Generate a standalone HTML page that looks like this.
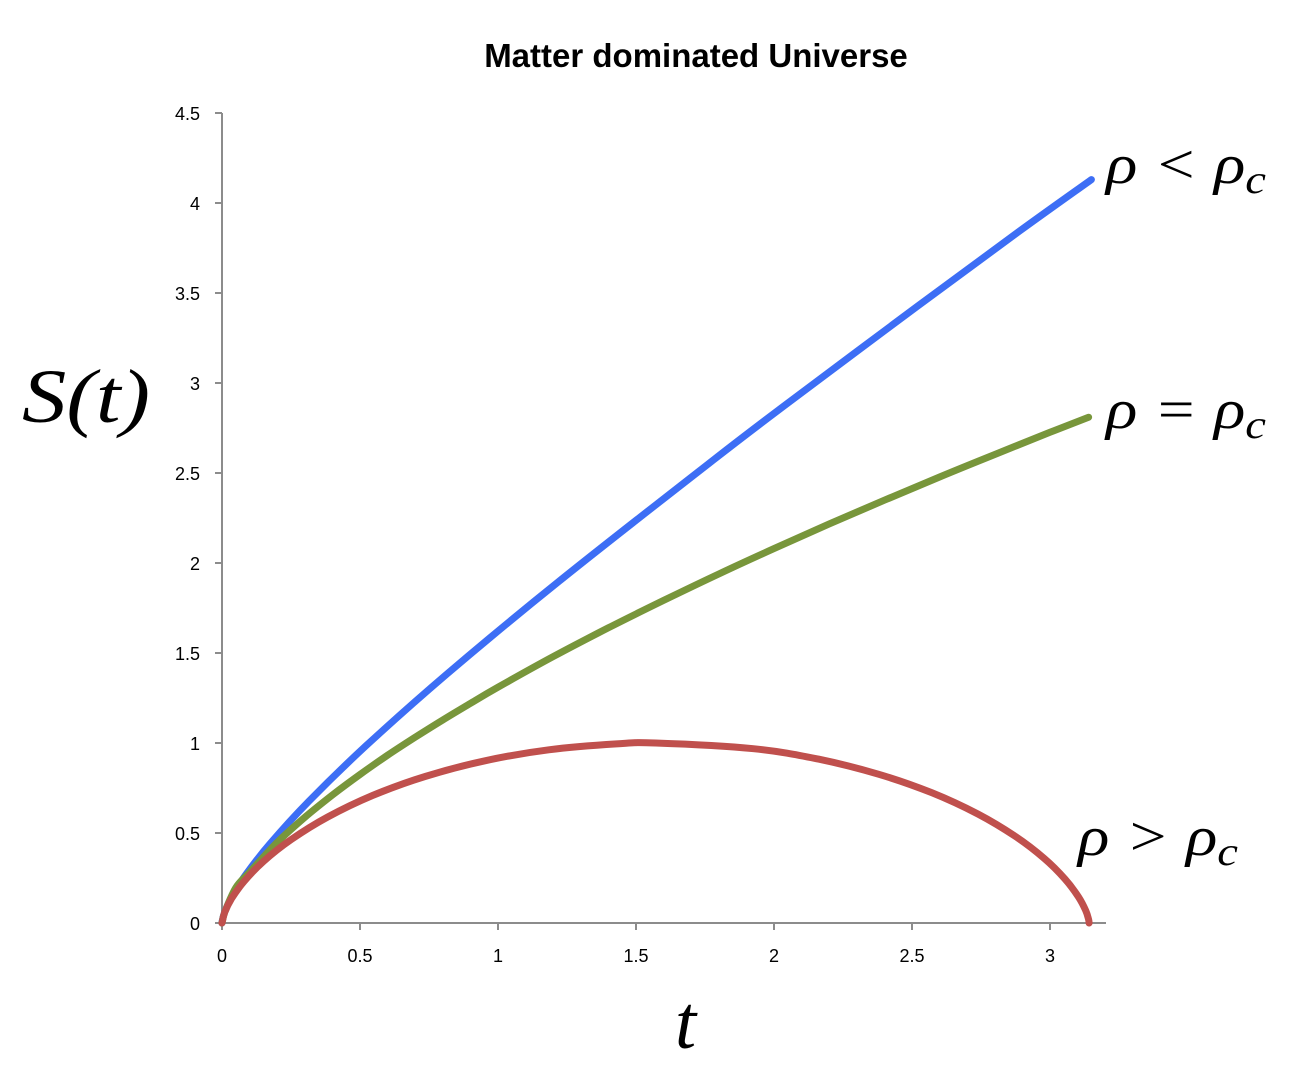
<!DOCTYPE html>
<html><head><meta charset="utf-8"><style>
html,body{margin:0;padding:0;background:#fff;}
svg{display:block;}
.tick{font-family:"Liberation Sans",sans-serif;font-size:18px;fill:#000;}
.math{font-family:"Liberation Serif",serif;font-style:italic;fill:#000;}
</style></head><body>
<svg id="chart" width="1302" height="1088" viewBox="0 0 1302 1088">
<text x="696" y="67" text-anchor="middle" font-family="Liberation Sans, sans-serif" font-weight="bold" font-size="33">Matter dominated Universe</text>
<g id="axes"></g>
<g id="series"></g>
<text class="math" x="22" y="422" font-size="76" textLength="128" lengthAdjust="spacingAndGlyphs">S(t)</text>
<text class="math" x="675" y="1048" font-size="76">t</text>
<text class="math" x="1106" y="183" font-size="56" textLength="160" lengthAdjust="spacingAndGlyphs">ρ &lt; ρ<tspan font-size="40" dy="10">c</tspan></text>
<text class="math" x="1106" y="428" font-size="56" textLength="160" lengthAdjust="spacingAndGlyphs">ρ = ρ<tspan font-size="40" dy="10">c</tspan></text>
<text class="math" x="1078" y="855" font-size="56" textLength="160" lengthAdjust="spacingAndGlyphs">ρ &gt; ρ<tspan font-size="40" dy="10">c</tspan></text>
</svg>
<script>
const xTicks = [0, 0.5, 1, 1.5, 2, 2.5, 3];
const xTickLabels = ["0", "0.5", "1", "1.5", "2", "2.5", "3"];
const yTicks = [0, 0.5, 1, 1.5, 2, 2.5, 3, 3.5, 4, 4.5];
const yTickLabels = ["0", "0.5", "1", "1.5", "2", "2.5", "3", "3.5", "4", "4.5"];
const openT = [0, 0.0013, 0.0105, 0.0362, 0.0876, 0.176, 0.3146, 0.520, 0.8134, 1.2206, 1.775, 2.047, 2.520, 2.887, 3.15];
const openS = [0, 0.0157, 0.0638, 0.147, 0.2715, 0.444, 0.6762, 0.982, 1.381, 1.898, 2.566, 2.885, 3.4265, 3.841, 4.13];
const critT = [0, 0.01, 0.05, 0.1, 0.2, 0.3, 0.4, 0.5, 0.6, 0.7, 0.8, 0.9, 1.0, 1.2, 1.4, 1.6, 1.8, 2.0, 2.2, 2.4, 2.6, 2.8, 3.0, 3.14];
const critS = [0, 0.061, 0.196, 0.282, 0.448, 0.587, 0.711, 0.825, 0.932, 1.032, 1.128, 1.220, 1.310, 1.480, 1.640, 1.792, 1.939, 2.080, 2.217, 2.349, 2.478, 2.603, 2.726, 2.810];
const closedT = [0, 0.0103, 0.0342, 0.0793, 0.1505, 0.2513, 0.383, 0.5454, 0.736, 0.9508, 1.1842, 1.4295, 1.5708, 1.9254, 2.1608, 2.3784, 2.5725, 2.7388, 2.8746, 2.9795, 3.0545, 3.1028, 3.1292, 3.1397, 3.1416];
const closedS = [0, 0.0612, 0.1342, 0.2298, 0.3423, 0.4646, 0.5891, 0.7081, 0.8141, 0.9006, 0.9622, 0.995, 1.0, 0.9683, 0.9103, 0.8268, 0.7231, 0.6054, 0.4812, 0.3582, 0.2439, 0.1457, 0.0694, 0.0199, 0];

const NS = "http://www.w3.org/2000/svg";
const X0 = 222, XS = 276, Y0 = 923, YS = 180;
function xScale(v){ return X0 + v * XS; }
function yScale(v){ return Y0 - v * YS; }
function mk(tag, attrs, parent){
  const e = document.createElementNS(NS, tag);
  for (const k in attrs) e.setAttribute(k, attrs[k]);
  parent.appendChild(e); return e;
}
const axes = document.getElementById("axes");
const yAxis = mk("line", {x1: X0, y1: yScale(4.5), x2: X0, y2: Y0, stroke: "#8c8c8c", "stroke-width": 2}, axes);


const xAxis = mk("line", {x1: X0 - 7, y1: Y0, x2: 1106, y2: Y0, stroke: "#8c8c8c", "stroke-width": 2}, axes);


yTicks.forEach((v, i) => {
  const t = mk("line", {x1: X0 - 7, y1: yScale(v), x2: X0, y2: yScale(v), stroke: "#8c8c8c", "stroke-width": 2}, axes);
  
  
  const l = mk("text", {x: X0 - 22, y: yScale(v) + 7, "text-anchor": "end", class: "tick"}, axes);
  l.textContent = yTickLabels[i];
  
  
});
xTicks.forEach((v, i) => {
  const t = mk("line", {x1: xScale(v), y1: Y0, x2: xScale(v), y2: Y0 + 7, stroke: "#8c8c8c", "stroke-width": 2}, axes);
  
  
  const l = mk("text", {x: xScale(v), y: Y0 + 39, "text-anchor": "middle", class: "tick"}, axes);
  l.textContent = xTickLabels[i];
  
  
});
const series = document.getElementById("series");
function drawLine(ts, ss, color, name){
  const P = ts.map((t, i) => [xScale(t), yScale(ss[i])]);
  let d = "M" + P[0][0].toFixed(1) + "," + P[0][1].toFixed(1);
  for (let i = 0; i < P.length - 1; i++) {
    const p0 = P[Math.max(0, i - 1)], p1 = P[i], p2 = P[i + 1], p3 = P[Math.min(P.length - 1, i + 2)];
    const c1 = [p1[0] + (p2[0] - p0[0]) / 6, p1[1] + (p2[1] - p0[1]) / 6];
    const c2 = [p2[0] - (p3[0] - p1[0]) / 6, p2[1] - (p3[1] - p1[1]) / 6];
    d += " C" + c1[0].toFixed(1) + "," + c1[1].toFixed(1) + " " + c2[0].toFixed(1) + "," + c2[1].toFixed(1) + " " + p2[0].toFixed(1) + "," + p2[1].toFixed(1);
  }
  const p = mk("path", {d: d, fill: "none", stroke: color, "stroke-width": 7, "stroke-linecap": "round", "stroke-linejoin": "round"}, series);
  
  
}
drawLine(openT, openS, "#3d6ef5", "open-universe-line");
drawLine(critT, critS, "#78963b", "critical-universe-line");
drawLine(closedT, closedS, "#c0504d", "closed-universe-line");
</script>
</body></html>
